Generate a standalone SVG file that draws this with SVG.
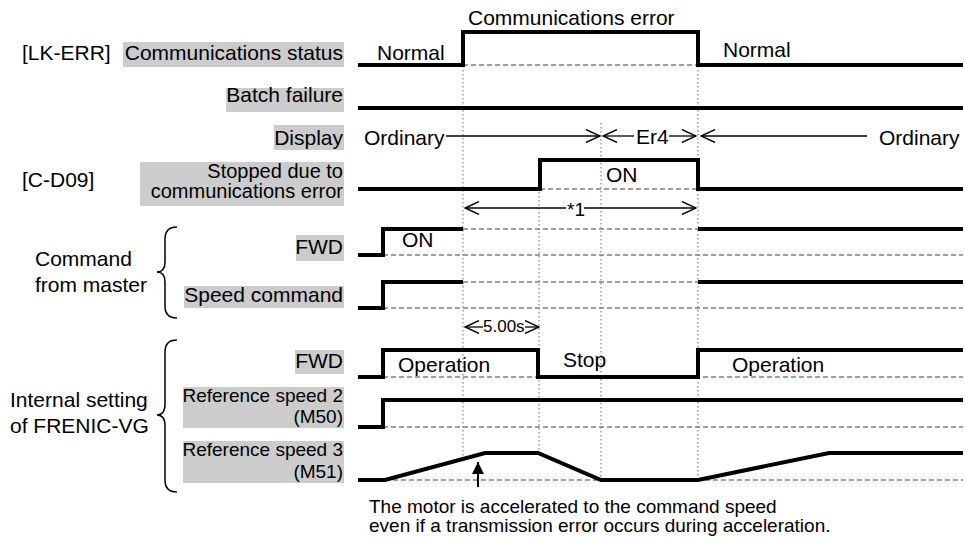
<svg xmlns="http://www.w3.org/2000/svg" width="965" height="543" viewBox="0 0 965 543">
<style>
text{font-family:"Liberation Sans",Arial,sans-serif;font-size:21px;fill:#000}
.r{text-anchor:end}
.s19{font-size:19px}
.s20{font-size:20px}
.bg{fill:#cccccc}
.sig{fill:none;stroke:#000;stroke-width:4;stroke-linejoin:miter}
.dash{fill:none;stroke:#808080;stroke-width:1.3;stroke-dasharray:5 3}
.dot{fill:none;stroke:#808080;stroke-width:1.2;stroke-dasharray:1.5 2.5}
.arr{fill:none;stroke:#000;stroke-width:1.3}
.brace{fill:none;stroke:#000;stroke-width:1.5}
</style>
<defs>
<marker id="chev" viewBox="0 0 16 14" refX="15" refY="7" markerWidth="16" markerHeight="14" markerUnits="userSpaceOnUse" orient="auto-start-reverse">
<path d="M1,0.5 L15,7 L1,13.5" fill="none" stroke="#000" stroke-width="1.4"/>
</marker>
<marker id="tri" viewBox="0 0 12 12" refX="12" refY="6" markerWidth="12" markerHeight="12" markerUnits="userSpaceOnUse" orient="auto">
<path d="M0,0 L12,6 L0,12 Z" fill="#000"/>
</marker>
</defs>

<g id="labels">
<text x="22" y="60">[LK-ERR]</text>
<text x="22" y="187">[C-D09]</text>
<text x="35" y="266">Command</text>
<text x="35" y="292">from master</text>
<text x="10" y="407">Internal setting</text>
<text x="10" y="433">of FRENIC-VG</text>
<path class="brace" d="M177,227 Q165,227 165,239 L165,262 Q165,272 157,272 Q165,272 165,282 L165,306 Q165,318 177,318"/>
<path class="brace" d="M177,340 Q165,340 165,352 L165,404 Q165,415 157,415 Q165,415 165,426 L165,480 Q165,492 177,492"/>
</g>

<g id="lbl-comm">
<rect class="bg" x="123" y="42" width="221" height="25"/>
<text class="r" x="343" y="60">Communications status</text>
</g>
<g id="lbl-batch">
<rect class="bg" x="226" y="88" width="118" height="24"/>
<text class="r" x="343" y="102">Batch failure</text>
</g>
<g id="lbl-display">
<rect class="bg" x="274" y="125" width="70" height="25"/>
<text class="r" x="343" y="145">Display</text>
</g>
<g id="lbl-stopped">
<rect class="bg" x="140" y="162" width="204" height="44"/>
<text class="r s20" x="343" y="178">Stopped due to</text>
<text class="r s20" x="343" y="198">communications error</text>
</g>
<g id="lbl-fwd1">
<rect class="bg" x="296" y="235" width="48" height="26"/>
<text class="r" x="343" y="254">FWD</text>
</g>
<g id="lbl-speed">
<rect class="bg" x="184" y="286" width="160" height="22"/>
<text class="r" x="343" y="302">Speed command</text>
</g>
<g id="lbl-fwd2">
<rect class="bg" x="295" y="350" width="49" height="24"/>
<text class="r" x="343" y="368">FWD</text>
</g>
<g id="lbl-ref2">
<rect class="bg" x="183" y="387" width="161" height="41"/>
<text class="r s19" x="343" y="402">Reference speed 2</text>
<text class="r s19" x="343" y="423">(M50)</text>
</g>
<g id="lbl-ref3">
<rect class="bg" x="183" y="441" width="161" height="42"/>
<text class="r s19" x="343" y="456">Reference speed 3</text>
<text class="r s19" x="343" y="478">(M51)</text>
</g>

<g id="gridlines">
<path class="dot" d="M463,66 V458 M539,192 V453 M601,123 V480 M698,66 V480"/>
<path class="dash" d="M463,65 H698 M540,189 H698 M463,229 H698 M383,255 H963 M463,282 H698 M383,308 H963 M383,377 H963 M383,427 H963 M385,480 H963"/>
</g>

<g id="signals">
<path class="sig" d="M358,65 H463 V32 H698 V65 H963"/>
<path class="sig" d="M358,108 H963"/>
<path class="sig" d="M358,189 H540 V160 H698 V189 H963"/>
<path class="sig" d="M358,255 H383 V229 H463"/>
<path class="sig" d="M698,229 H963"/>
<path class="sig" d="M358,308 H383 V282 H463"/>
<path class="sig" d="M698,282 H963"/>
<path class="sig" d="M358,377 H383 V350 H538 V377 H698 V350 H963"/>
<path class="sig" d="M358,427 H383 V400 H963"/>
<path class="sig" d="M358,480 H385 L485,453 H538 L601,480 H698 L829,453 H963"/>
</g>

<g id="connectors">
<line class="arr" x1="446" y1="136" x2="600" y2="136" marker-end="url(#chev)"/>
<line class="arr" x1="603" y1="136" x2="634" y2="136" marker-start="url(#chev)"/>
<line class="arr" x1="669" y1="136" x2="696" y2="136" marker-end="url(#chev)"/>
<line class="arr" x1="701" y1="136" x2="867" y2="136" marker-start="url(#chev)"/>
<line class="arr" x1="465" y1="208" x2="566" y2="208" marker-start="url(#chev)"/>
<line class="arr" x1="584" y1="208" x2="696" y2="208" marker-end="url(#chev)"/>
<line class="arr" x1="465" y1="327" x2="483" y2="327" marker-start="url(#chev)"/>
<line class="arr" x1="525" y1="327" x2="539" y2="327" marker-end="url(#chev)"/>
<line x1="478" y1="487" x2="478" y2="462" stroke="#000" stroke-width="2" marker-end="url(#tri)"/>
</g>

<g id="texts">
<text x="468" y="25">Communications error</text>
<text x="377" y="60">Normal</text>
<text x="723" y="57">Normal</text>
<text x="364" y="145">Ordinary</text>
<text x="636" y="144">Er4</text>
<text x="879" y="145">Ordinary</text>
<text x="606" y="182">ON</text>
<text x="567" y="216" style="font-size:19px">*1</text>
<text x="402" y="247">ON</text>
<text x="483" y="332" style="font-size:17px">5.00s</text>
<text x="398" y="372">Operation</text>
<text x="563" y="367">Stop</text>
<text x="732" y="372">Operation</text>
<text class="s19" x="369" y="513">The motor is accelerated to the command speed</text>
<text class="s19" x="369" y="532">even if a transmission error occurs during acceleration.</text>
</g>
</svg>
